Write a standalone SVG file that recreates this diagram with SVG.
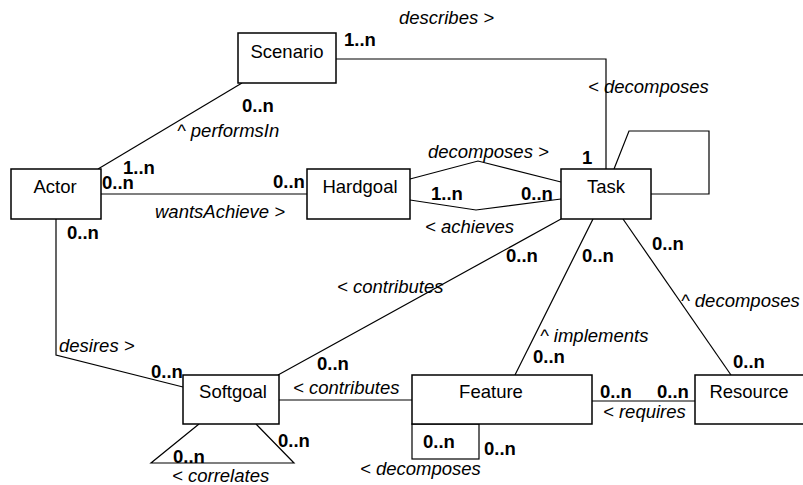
<svg xmlns="http://www.w3.org/2000/svg" width="803" height="485" viewBox="0 0 803 485">
  <style>
    .box { fill: #fff; stroke: #000; stroke-width: 1.5; }
    .name { font-family: "Liberation Sans", Arial, sans-serif; font-size: 18.5px; fill: #000; text-anchor: middle; }
    .role { font-family: "Liberation Sans", Arial, sans-serif; font-size: 18.5px; font-style: italic; fill: #000; }
    .mult { font-family: "Liberation Sans", Arial, sans-serif; font-size: 18.5px; font-weight: bold; fill: #000; }
    .conn { fill: none; stroke: #000; stroke-width: 1.2; }
  </style>

  <rect width="803" height="485" fill="#fff"/>

  <!-- associations -->
  <g id="connectors">
    <polyline class="conn" points="336,59 606,59 606,169"/>
    <line class="conn" x1="242" y1="83" x2="98" y2="169"/>
    <line class="conn" x1="101" y1="194" x2="307" y2="194"/>
    <polyline class="conn" points="410,179 478,161 561,182"/>
    <polyline class="conn" points="410,200 476,210 561,199"/>
    <polyline class="conn" points="614,169 629,131 709,131 709,194 651,194"/>
    <line class="conn" x1="561" y1="219" x2="278" y2="375"/>
    <line class="conn" x1="593" y1="219" x2="515" y2="375"/>
    <line class="conn" x1="623" y1="219" x2="731" y2="375"/>
    <polyline class="conn" points="56,219 56,355 183,387"/>
    <line class="conn" x1="279" y1="400" x2="412" y2="400"/>
    <line class="conn" x1="592" y1="401" x2="695" y2="401"/>
    <polyline class="conn" points="199,424 151,463 294,463 256,424"/>
    <rect class="conn" x="412" y="424" width="67" height="35" stroke-width="1.5"/>
  </g>

  <g id="scenario">
    <rect class="box" x="238" y="33" width="98" height="50"/>
    <text class="name" x="287" y="58">Scenario</text>
  </g>
  <g id="actor">
    <rect class="box" x="11" y="169" width="90" height="50"/>
    <text class="name" x="55" y="193">Actor</text>
  </g>
  <g id="hardgoal">
    <rect class="box" x="307" y="169" width="103" height="50"/>
    <text class="name" x="360" y="193">Hardgoal</text>
  </g>
  <g id="task">
    <rect class="box" x="561" y="169" width="90" height="50"/>
    <text class="name" x="606" y="193">Task</text>
  </g>
  <g id="softgoal">
    <rect class="box" x="183" y="375" width="96" height="49"/>
    <text class="name" x="233" y="398">Softgoal</text>
  </g>
  <g id="feature">
    <rect class="box" x="412" y="375" width="180" height="49"/>
    <text class="name" x="491" y="398">Feature</text>
  </g>
  <g id="resource">
    <rect class="box" x="695" y="375" width="112" height="49"/>
    <text class="name" x="749" y="398">Resource</text>
  </g>

  <!-- role names -->
  <g id="roles">
    <text class="role" x="399" y="24">describes &gt;</text>
    <text class="role" x="588" y="93">&lt; decomposes</text>
    <text class="role" x="177" y="137">^ performsIn</text>
    <text class="role" x="155" y="218">wantsAchieve &gt;</text>
    <text class="role" x="428" y="158">decomposes &gt;</text>
    <text class="role" x="425" y="233">&lt; achieves</text>
    <text class="role" x="337" y="293">&lt; contributes</text>
    <text class="role" x="681" y="307">^ decomposes</text>
    <text class="role" x="540" y="342">^ implements</text>
    <text class="role" x="59" y="352">desires &gt;</text>
    <text class="role" x="293" y="394">&lt; contributes</text>
    <text class="role" x="603" y="418">&lt; requires</text>
    <text class="role" x="360" y="475">&lt; decomposes</text>
    <text class="role" x="172" y="482">&lt; correlates</text>
  </g>

  <!-- multiplicities -->
  <g id="multiplicities">
    <text class="mult" x="344" y="46">1..n</text>
    <text class="mult" x="242" y="112">0..n</text>
    <text class="mult" x="123" y="174">1..n</text>
    <text class="mult" x="102" y="189">0..n</text>
    <text class="mult" x="273" y="188">0..n</text>
    <text class="mult" x="67" y="239">0..n</text>
    <text class="mult" x="582" y="164">1</text>
    <text class="mult" x="431" y="200">1..n</text>
    <text class="mult" x="521" y="200">0..n</text>
    <text class="mult" x="506" y="262">0..n</text>
    <text class="mult" x="582" y="262">0..n</text>
    <text class="mult" x="652" y="250">0..n</text>
    <text class="mult" x="533" y="363">0..n</text>
    <text class="mult" x="733" y="368">0..n</text>
    <text class="mult" x="317" y="370">0..n</text>
    <text class="mult" x="151" y="378">0..n</text>
    <text class="mult" x="600" y="398">0..n</text>
    <text class="mult" x="657" y="398">0..n</text>
    <text class="mult" x="278" y="447">0..n</text>
    <text class="mult" x="173" y="463">0..n</text>
    <text class="mult" x="423" y="448">0..n</text>
    <text class="mult" x="484" y="455">0..n</text>
  </g>
</svg>
